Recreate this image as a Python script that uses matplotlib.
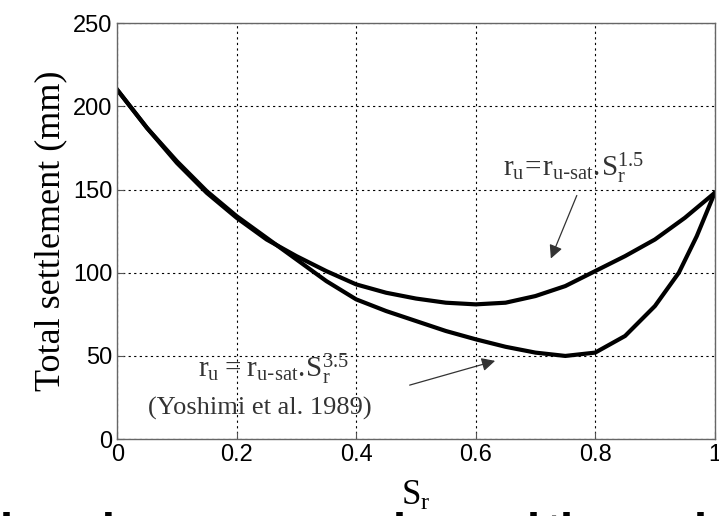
import numpy as np
import matplotlib.pyplot as plt

# degree of saturation Sr and total settlement (mm)
sr_15 = [0, 0.05, 0.1, 0.15, 0.2, 0.25, 0.3, 0.35, 0.4, 0.45, 0.5, 0.55,
         0.6, 0.65, 0.7, 0.75, 0.8, 0.85, 0.9, 0.95, 1.0]
set_15 = [210, 187, 166, 148, 133, 120, 110, 101, 93, 88, 84.5, 82,
          81, 82, 86, 92, 101, 110, 120, 133, 148]

sr_35 = [0, 0.05, 0.1, 0.15, 0.2, 0.25, 0.3, 0.35, 0.4, 0.45, 0.5, 0.55,
         0.6, 0.65, 0.7, 0.75, 0.8, 0.85, 0.9, 0.94, 0.97, 1.0]
set_35 = [210, 187, 167, 149, 134, 121, 108, 95, 84, 77, 71, 65,
          60, 55.5, 52, 50, 52, 62, 80, 100, 122, 148]

xticks = [0, 0.2, 0.4, 0.6, 0.8, 1]
yticks = [0, 50, 100, 150, 200, 250]

serif = 'Liberation Serif'

fig = plt.figure(figsize=(7.19, 5.16), dpi=100)
ax = fig.add_axes([0.163, 0.149, 0.831, 0.806])

ax.plot(sr_15, set_15, color='black', lw=3.0)
ax.plot(sr_35, set_35, color='black', lw=3.0)

ax.set_xlim(0, 1)
ax.set_ylim(0, 250)
ax.set_xticks(xticks)
ax.set_xticklabels(['0', '0.2', '0.4', '0.6', '0.8', '1'])
ax.set_yticks(yticks)
ax.grid(True, color='black', ls=(0, (2, 3)), lw=0.8)
ax.tick_params(direction='in', labelsize=17, length=5, color='#555555')
for lab in ax.get_xticklabels() + ax.get_yticklabels():
    lab.set_family('Liberation Sans')
for sp in ax.spines.values():
    sp.set_color('#666666')
    sp.set_linewidth(1.0)

ax.set_ylabel('Total settlement (mm)', family=serif, fontsize=26, labelpad=4)
ax.set_xlabel(r'$\mathregular{S_r}$', family=serif, fontsize=25, labelpad=10)

# annotations
ax.text(0.645, 158, r'$\mathregular{r_u\!=\!r_{u\text{-}sat}{.}\!S_r^{1.5}}$',
        family=serif, fontsize=21, color='#333333')
ax.annotate('', xy=(0.724, 107), xytext=(0.771, 148),
            arrowprops=dict(arrowstyle='-|>', color='#333333', lw=0.9,
                            mutation_scale=20))
ax.text(0.135, 37, r'$\mathregular{r_u = r_{u\text{-}sat}{.}\!S_r^{3.5}}$',
        family=serif, fontsize=21, color='#333333')
ax.text(0.052, 18.6, '(Yoshimi et al. 1989)', family=serif, fontsize=19,
        color='#333333', va='center')
ax.annotate('', xy=(0.637, 47.5), xytext=(0.485, 32),
            arrowprops=dict(arrowstyle='-|>', color='#333333', lw=0.9,
                            mutation_scale=20))

# cut-off caption at the bottom edge of the slide
for xp, s in [(0.0, 'l'), (0.118, 'd'), (0.546, 'l'), (0.733, 'l'),
              (0.758, 't'), (0.779, 'h'), (0.965, 'l')]:
    fig.text(xp, -0.058, s, family='Liberation Sans', weight='bold',
             fontsize=34, va='baseline')

fig.savefig('out.png', dpi=100)
